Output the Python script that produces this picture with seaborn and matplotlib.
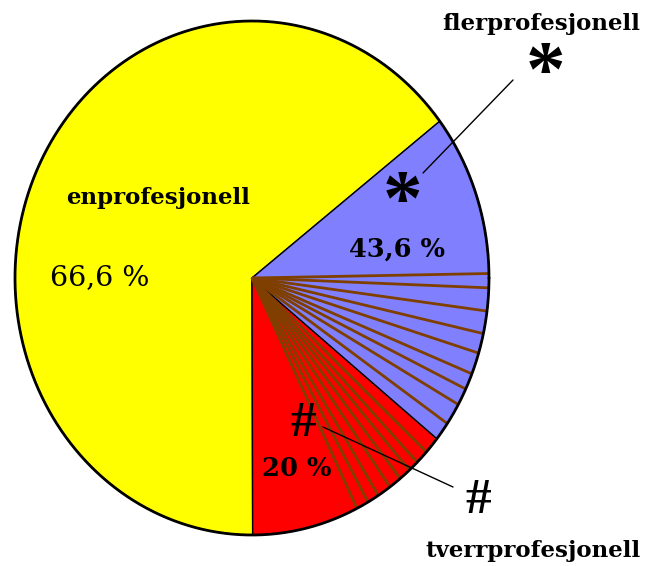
import numpy as np
import matplotlib
matplotlib.use("Agg")
import matplotlib.pyplot as plt
import seaborn as sns

# ---- data ----
categories = ["enprofesjonell", "tverrprofesjonell", "flerprofesjonell"]
wedge_sizes = [64.6, 14.2, 21.2]          # drawn share of the ellipse (%)
pct_labels = ["66,6 %", "20 %", "43,6 %"]  # printed percentages
colors = ["#FFFF00", "#FF0000", "#8080FF"]
start_angle = 37.6
overlap_angles = [1.0, -2.2, -7.4, -12.5, -17.0, -21.9, -25.6, -29.5, -34.5,
                  -42.6, -45.8, -48.4, -51.3, -54.4, -57.8, -60.7, -63.7]

sns.set_theme(style="white")
plt.rcParams["font.family"] = ["DejaVu Serif", "DejaVu Sans"]
plt.rcParams["text.color"] = "black"

W, H = 649, 566
fig = plt.figure(figsize=(W / 100, H / 100), dpi=100)
ax = fig.add_axes([0, 0, 1, 1])

cx, cy, rx, ry = 252, 278, 237, 257

wedges, _ = ax.pie(wedge_sizes, colors=colors, startangle=start_angle,
                   counterclock=True, radius=1.0, center=(0, 0),
                   wedgeprops=dict(edgecolor="black", linewidth=1.0))
ax.set_aspect("auto")
ax.set_xlim(-cx / rx, (W - cx) / rx)
ax.set_ylim((cy - H) / ry, cy / ry)

# overlap hatch lines
for a in overlap_angles:
    t = np.deg2rad(a)
    ax.plot([0, np.cos(t)], [0, np.sin(t)], color="#7F3F00", lw=2.0,
            solid_capstyle="butt", zorder=3)

# outer outline
th = np.linspace(0, 2 * np.pi, 400)
ax.plot(np.cos(th), np.sin(th), color="black", lw=2.0, zorder=4)
ax.axis("off")


def px(x, y):
    return (x / W, 1 - y / H)


def ftext(x, y, s, **kw):
    fig.text(*px(x, y), s, ha="center", va="center", color="black", **kw)


ftext(158, 198, categories[0], fontsize=16.5, fontweight="bold")
ftext(541, 24, categories[2], fontsize=16.5, fontweight="bold")
ftext(533, 551, categories[1], fontsize=16.5, fontweight="bold")
ftext(100, 278, pct_labels[0], fontsize=20.5)
ftext(397, 249, pct_labels[2], fontsize=18.5, fontweight="bold")
ftext(297, 469, pct_labels[1], fontsize=18.5, fontweight="bold")

sym = dict(family=["Liberation Serif"], fontsize=57, fontweight="bold")
ftext(546, 75, "*", **sym)
ftext(403, 205, "*", **sym)
hsh = dict(family=["Liberation Serif"], fontsize=37, fontweight="bold")
ftext(303, 424, "#", **hsh)
ftext(478, 501, "#", **hsh)

# leader lines
for (x0, y0), (x1, y1) in [((423, 173), (513, 80)), ((323, 427), (453, 487))]:
    fig.add_artist(plt.Line2D([x0 / W, x1 / W], [1 - y0 / H, 1 - y1 / H],
                              color="black", lw=1.0, transform=fig.transFigure))

fig.savefig("out.png", dpi=100)
